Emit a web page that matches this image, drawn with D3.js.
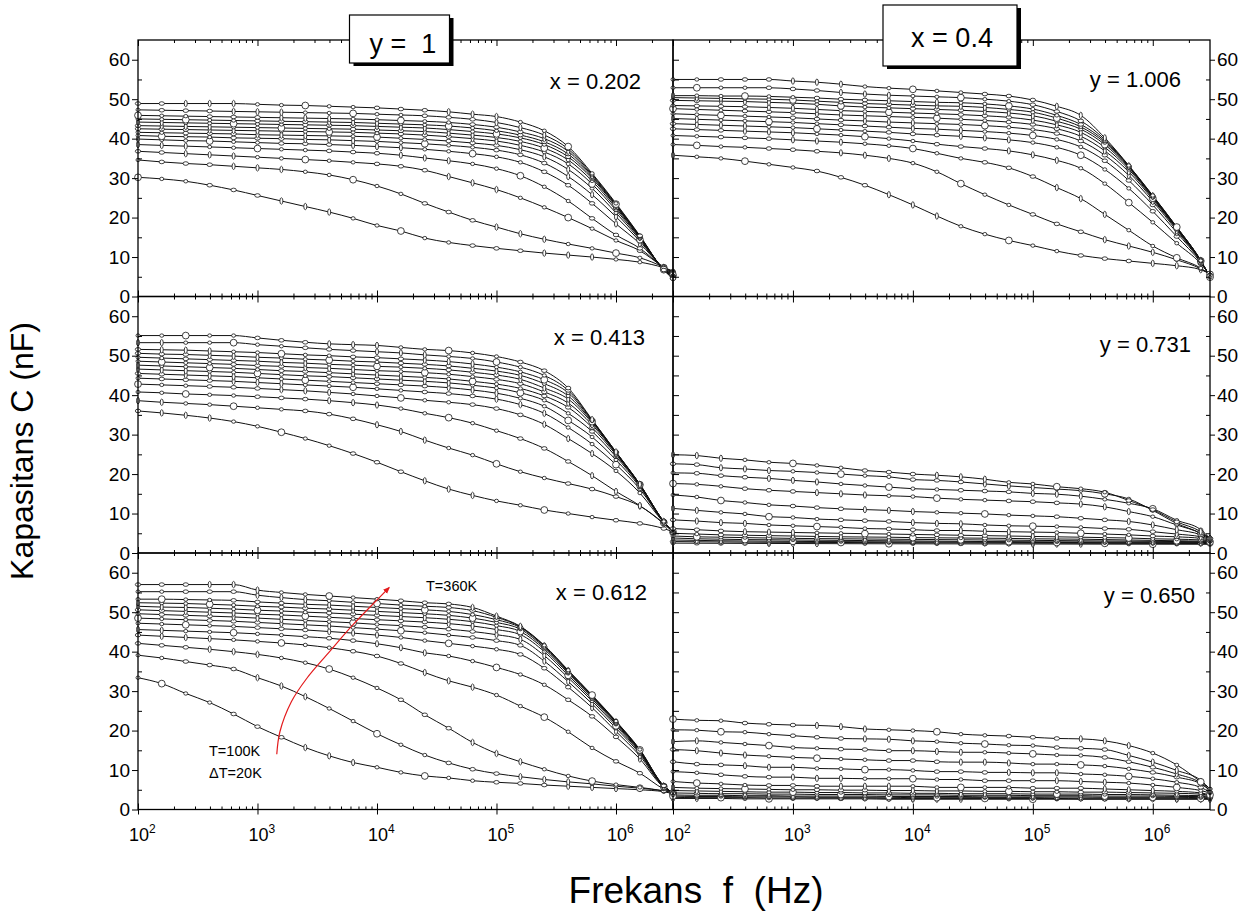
<!DOCTYPE html>
<html><head><meta charset="utf-8">
<script src="https://cdn.jsdelivr.net/npm/d3@7"></script>
<style>
body{margin:0;background:#fff;}
svg{display:block;}
</style></head><body>
<svg id="chart" width="1246" height="916"></svg>
<script>
// ---------- DATA ----------
const freqs = [100,158,251,398,631,1000,1585,2512,3981,6310,10000,15849,25119,39811,63096,100000,158489,251189,398107,630957,1000000,1584893,2511886,3000000];
const temps = [100,120,140,160,180,200,220,240,260,280,300,320,340,360];
const yTickValues = [0,10,20,30,40,50,60];
const xTickExponents = [2,3,4,5,6];
const panelLabels = ["x = 0.202","y = 1.006","x = 0.413","y = 0.731","x = 0.612","y = 0.650"];
const boxLabels = ["y =  1","x = 0.4"];
const arrowF = [1450,1540,1920,2580,4010,6250,9700,12600];
const arrowC = [14.0,19.7,27.3,33.2,40.0,46.7,52.7,56.2];

// capacitance (nF), one row per temperature T=100..360K
const capX0202 = [
[30.2,29.8,29.2,28.2,27.0,25.6,24.2,22.8,21.4,19.8,18.0,16.6,14.8,13.7,12.9,12.2,11.6,11.0,10.5,10.0,9.4,8.7,7.3,6.5],
[34.6,34.1,33.7,33.4,33.0,32.6,32.2,31.6,30.8,29.6,28.0,26.0,23.6,21.4,19.3,17.6,15.9,14.5,13.3,12.2,11.0,9.8,7.4,6.2],
[36.8,36.5,36.2,35.9,35.6,35.3,35.0,34.7,34.4,34.0,33.6,33.0,32.0,30.4,28.8,27.1,25.0,22.6,20.0,17.2,14.2,11.6,7.4,6.0],
[38.5,38.3,38.1,37.9,37.7,37.5,37.3,37.1,36.9,36.6,36.3,35.8,35.1,34.4,33.6,32.4,30.6,27.8,24.2,19.8,15.6,12.2,7.3,5.8],
[39.9,39.7,39.5,39.4,39.2,39.0,38.8,38.7,38.5,38.3,38.0,37.7,37.3,36.8,36.2,35.4,34.0,31.6,28.2,23.6,18.4,13.4,7.2,5.6],
[40.8,40.6,40.5,40.4,40.2,40.1,40.0,39.8,39.7,39.5,39.3,39.0,38.7,38.3,37.8,37.1,35.9,33.8,30.4,25.8,20.2,14.0,7.1,5.4],
[41.6,41.5,41.4,41.3,41.2,41.0,40.9,40.8,40.7,40.6,40.4,40.1,39.8,39.4,38.9,38.3,37.2,35.4,32.2,27.4,21.2,14.4,7.0,5.3],
[42.5,42.4,42.3,42.2,42.1,42.0,41.9,41.8,41.7,41.6,41.4,41.2,40.9,40.5,40.0,39.4,38.3,36.6,33.6,28.5,21.9,14.7,7.0,5.2],
[43.3,43.2,43.1,43.0,42.9,42.8,42.7,42.6,42.5,42.4,42.2,42.0,41.8,41.4,40.9,40.3,39.3,37.6,34.6,29.3,22.4,14.9,6.9,5.1],
[44.2,44.1,44.0,43.9,43.8,43.7,43.6,43.5,43.4,43.3,43.1,42.9,42.7,42.3,41.8,41.2,40.2,38.5,35.4,29.9,22.8,15.0,6.9,5.0],
[45.0,44.9,44.8,44.7,44.6,44.5,44.4,44.3,44.2,44.1,43.9,43.7,43.5,43.2,42.7,42.0,40.9,39.2,36.1,30.3,23.0,15.1,6.8,4.9],
[45.9,45.8,45.7,45.6,45.5,45.4,45.3,45.2,45.1,45.0,44.8,44.6,44.4,44.1,43.6,42.9,41.7,40.0,36.8,30.6,23.2,15.2,6.8,4.8],
[47.3,47.2,47.1,47.0,46.9,46.8,46.7,46.6,46.5,46.4,46.2,46.0,45.8,45.4,44.9,44.1,42.8,40.9,37.4,30.9,23.4,15.3,6.7,4.6],
[48.9,48.9,48.9,48.9,48.9,48.7,48.5,48.4,48.2,48.0,47.8,47.5,47.2,46.8,46.2,45.6,44.2,42.0,38.0,31.2,23.6,15.4,6.7,4.5]
];
const capY1006 = [
[35.8,35.4,35.0,34.3,33.5,32.7,31.8,30.2,28.2,25.8,23.2,20.4,17.8,15.8,14.2,12.9,11.5,10.4,9.6,9.0,8.4,7.8,6.8,5.7],
[38.5,38.3,38.0,37.8,37.5,37.2,36.8,36.4,35.8,35.0,33.8,31.6,28.6,25.8,23.2,20.8,18.4,16.4,14.4,12.8,11.2,9.3,7.0,5.6],
[40.8,40.6,40.4,40.2,40.0,39.7,39.4,39.1,38.7,38.2,37.5,36.3,35.0,34.0,32.6,30.4,27.6,24.8,20.8,16.8,12.8,9.8,7.2,5.5],
[42.5,42.3,42.1,41.9,41.7,41.5,41.2,40.9,40.5,40.0,39.4,38.6,38.0,37.5,36.9,35.9,34.5,32.5,28.6,23.8,18.8,13.5,8.3,5.4],
[43.8,43.6,43.4,43.2,43.0,42.8,42.5,42.2,41.9,41.6,41.2,40.9,40.6,40.2,39.7,39.0,37.8,35.8,32.2,27.4,21.6,15.2,8.6,5.3],
[45.1,44.9,44.7,44.5,44.3,44.1,43.8,43.5,43.2,42.9,42.6,42.4,42.1,41.8,41.4,40.8,39.8,37.9,34.4,29.4,23.2,16.2,8.8,5.2],
[46.3,46.1,45.9,45.7,45.5,45.3,45.0,44.7,44.5,44.2,44.0,43.8,43.6,43.3,42.9,42.3,41.3,39.4,35.8,30.7,24.1,16.7,8.9,5.1],
[47.6,47.4,47.2,47.0,46.8,46.6,46.3,46.0,45.8,45.6,45.4,45.2,44.9,44.6,44.2,43.6,42.5,40.6,36.9,31.6,24.6,17.0,9.0,5.0],
[48.4,48.3,48.2,48.1,47.9,47.7,47.4,47.1,46.9,46.7,46.5,46.3,46.1,45.8,45.4,44.7,43.5,41.6,37.8,32.2,24.9,17.2,9.0,5.0],
[49.7,49.6,49.5,49.4,49.2,49.0,48.7,48.3,48.0,47.8,47.6,47.4,47.2,46.9,46.5,45.8,44.4,42.4,38.5,32.6,25.1,17.3,9.0,4.9],
[50.4,50.3,50.2,50.1,50.0,49.8,49.5,49.2,48.9,48.7,48.5,48.3,48.2,47.9,47.4,46.7,45.2,43.0,39.0,32.8,25.3,17.4,9.1,4.9],
[50.9,50.9,50.8,50.8,50.7,50.5,50.3,50.0,49.8,49.6,49.4,49.2,49.1,48.8,48.3,47.5,45.9,43.6,39.4,33.0,25.4,17.5,9.1,4.9],
[52.9,52.9,52.9,52.9,52.9,52.6,52.2,51.7,51.3,51.0,50.8,50.6,50.4,50.0,49.5,48.6,46.9,44.5,39.8,33.1,25.5,17.6,9.1,4.9],
[55.0,55.0,55.0,55.0,55.0,54.6,54.3,53.8,53.2,52.8,52.5,52.1,51.7,51.3,50.8,49.8,48.2,45.9,40.2,33.2,25.6,17.6,9.1,4.9]
];
const capX0413 = [
[36.0,35.5,34.9,34.2,33.3,32.1,30.6,29.0,27.2,25.2,23.0,20.6,18.3,16.2,14.6,13.2,12.1,10.9,10.0,9.1,8.3,7.5,6.2,5.4],
[38.6,38.2,37.9,37.6,37.2,36.8,36.4,36.0,35.2,34.0,32.5,30.8,28.6,26.6,24.8,22.6,20.6,19.0,17.6,16.2,14.3,11.9,7.4,5.4],
[40.8,40.6,40.3,40.1,39.9,39.6,39.3,39.0,38.6,38.1,37.5,36.6,35.4,34.3,32.9,31.0,29.0,26.5,23.2,19.6,15.6,12.0,7.5,5.3],
[42.8,42.6,42.4,42.2,42.0,41.7,41.4,41.1,40.7,40.3,39.8,39.3,38.7,38.2,37.6,36.6,35.0,32.6,29.0,25.2,20.8,15.2,7.7,5.3],
[44.3,44.1,43.9,43.7,43.5,43.2,42.9,42.6,42.3,42.0,41.6,41.2,40.8,40.4,39.8,39.0,37.6,35.4,31.8,27.6,22.4,16.2,7.8,5.3],
[45.5,45.3,45.1,44.9,44.7,44.4,44.1,43.8,43.5,43.2,42.9,42.6,42.3,41.9,41.3,40.5,39.2,37.2,33.6,29.4,23.6,16.7,7.8,5.3],
[46.6,46.4,46.2,46.0,45.8,45.5,45.2,44.9,44.7,44.4,44.1,43.8,43.5,43.1,42.5,41.8,40.6,38.7,35.4,30.8,24.4,17.0,7.8,5.3],
[47.6,47.4,47.2,47.0,46.8,46.5,46.2,46.0,45.7,45.4,45.1,44.8,44.5,44.1,43.5,42.8,41.7,39.8,36.9,31.8,24.9,17.1,7.9,5.3],
[48.6,48.4,48.2,48.0,47.8,47.5,47.3,47.0,46.8,46.5,46.2,46.0,45.7,45.3,44.7,44.0,42.9,40.8,38.0,32.5,25.2,17.2,7.9,5.3],
[49.6,49.4,49.2,49.0,48.8,48.6,48.3,48.1,47.8,47.6,47.3,47.1,46.8,46.4,45.8,45.1,44.0,41.8,39.0,33.0,25.3,17.3,7.9,5.3],
[50.6,50.4,50.3,50.1,49.9,49.6,49.4,49.1,48.9,48.6,48.4,48.1,47.8,47.4,46.8,46.1,45.0,42.9,39.8,33.3,25.4,17.3,7.9,5.3],
[51.6,51.5,51.4,51.2,51.0,50.8,50.5,50.2,50.0,49.7,49.5,49.2,48.9,48.5,47.9,47.1,45.9,43.9,40.6,33.5,25.5,17.4,8.0,5.3],
[53.3,53.3,53.3,53.3,53.3,52.8,52.4,52.0,51.6,51.3,51.0,50.7,50.2,49.8,49.3,48.4,47.1,45.0,41.2,33.7,25.6,17.4,8.0,5.3],
[55.1,55.1,55.1,55.1,55.1,54.5,53.9,53.4,53.0,52.8,52.6,52.1,51.6,51.3,50.7,49.8,48.4,46.2,41.8,33.8,25.6,17.4,8.0,5.3]
];
const capY0731 = [
[2.5,2.48,2.46,2.44,2.42,2.4,2.38,2.36,2.35,2.34,2.33,2.32,2.31,2.3,2.29,2.28,2.27,2.26,2.25,2.24,2.23,2.22,2.21,2.2],
[2.9,2.85,2.8,2.75,2.72,2.7,2.68,2.66,2.64,2.62,2.6,2.58,2.56,2.54,2.52,2.5,2.48,2.46,2.45,2.44,2.43,2.42,2.41,2.4],
[3.3,3.2,3.1,3.05,3.0,2.95,2.9,2.88,2.85,2.82,2.8,2.78,2.75,2.72,2.7,2.68,2.66,2.64,2.62,2.6,2.58,2.56,2.54,2.52],
[3.8,3.6,3.5,3.4,3.35,3.3,3.25,3.2,3.15,3.1,3.05,3.0,2.95,2.9,2.88,2.85,2.82,2.8,2.78,2.75,2.72,2.7,2.68,2.65],
[4.3,4.1,4.0,3.9,3.8,3.7,3.65,3.6,3.55,3.5,3.45,3.4,3.35,3.3,3.25,3.2,3.15,3.1,3.05,3.0,2.95,2.9,2.85,2.8],
[5.0,4.8,4.6,4.5,4.4,4.3,4.2,4.1,4.05,4.0,3.9,3.85,3.8,3.75,3.7,3.6,3.55,3.5,3.4,3.3,3.2,3.1,3.0,2.9],
[6.2,5.9,5.6,5.4,5.3,5.2,5.1,5.0,4.9,4.8,4.7,4.6,4.5,4.4,4.3,4.2,4.1,4.0,3.9,3.8,3.6,3.5,3.3,3.1],
[8.4,8.1,7.7,7.5,7.1,6.9,6.7,6.5,6.2,6.1,5.9,5.7,5.7,5.5,5.4,5.3,5.2,5.0,4.8,4.6,4.3,4.1,3.7,3.3],
[11.3,10.8,10.3,9.9,9.2,9.0,8.6,8.4,8.2,8.0,7.7,7.5,7.4,7.1,6.9,6.8,6.7,6.5,6.2,6.0,5.4,4.8,4.1,3.5],
[14.7,14.2,13.3,12.8,12.2,11.9,11.5,11.2,11.0,10.8,10.5,10.3,10.1,9.9,9.6,9.4,9.2,8.8,8.4,8.0,7.1,5.9,4.6,3.5],
[17.6,17.4,16.9,16.3,15.9,15.6,15.3,15.0,14.7,14.5,14.3,13.9,13.6,13.4,13.2,13.0,12.7,12.4,11.7,10.5,9.2,7.1,5.0,3.7],
[20.3,20.2,19.6,19.2,18.9,18.4,18.0,17.5,17.1,16.7,16.3,16.1,15.9,15.7,15.5,15.1,14.9,14.4,13.6,12.6,11.2,8.3,5.9,3.7],
[22.6,22.4,21.6,21.3,20.9,20.7,20.4,20.0,19.6,19.3,18.6,18.4,18.0,17.5,17.0,16.6,16.2,15.8,15.0,13.7,10.8,7.5,5.0,3.7],
[24.9,24.7,24.0,23.6,23.0,22.7,22.2,21.6,20.9,20.5,20.0,19.7,19.3,18.7,17.9,17.5,16.8,16.3,15.4,13.3,11.0,7.9,5.4,3.7]
];
const capX0612 = [
[33.4,31.9,29.4,27.1,24.2,21.0,18.3,15.7,13.6,11.9,10.7,9.4,8.5,8.0,7.3,6.9,6.6,6.2,5.9,5.6,5.3,5.0,4.5,4.0],
[39.1,38.4,37.5,36.6,35.6,33.4,31.3,28.6,25.6,22.4,19.2,16.4,13.8,11.8,10.2,9.1,8.3,7.6,7.0,6.5,5.9,5.4,4.7,4.2],
[42.1,41.6,41.1,40.6,40.0,39.3,38.4,37.2,35.6,33.4,30.8,27.8,24.0,20.6,17.0,14.2,12.1,10.2,8.5,7.2,6.3,5.6,4.7,4.2],
[44.2,43.9,43.6,43.3,43.0,42.6,42.2,41.7,41.0,40.1,38.9,37.0,34.7,32.6,31.0,29.0,26.2,23.4,19.7,15.6,12.2,9.2,5.2,4.2],
[45.6,45.4,45.2,45.0,44.8,44.5,44.2,43.8,43.4,42.8,42.0,41.0,39.7,38.9,37.6,36.0,34.2,31.6,27.8,23.6,18.4,12.8,5.6,4.2],
[47.2,47.0,46.8,46.6,46.4,46.1,45.8,45.5,45.1,44.7,44.2,43.6,42.8,42.1,41.4,40.6,39.3,35.8,31.0,25.8,19.8,13.6,5.7,4.2],
[48.5,48.3,48.1,47.9,47.7,47.4,47.1,46.8,46.5,46.1,45.7,45.3,44.8,44.2,43.6,42.8,41.6,37.6,32.4,26.8,20.6,14.1,5.8,4.2],
[49.6,49.4,49.2,49.0,48.8,48.5,48.2,47.9,47.6,47.3,46.9,46.6,46.2,45.7,45.1,44.3,43.1,39.0,33.4,27.5,21.2,14.4,5.8,4.2],
[50.6,50.4,50.2,50.0,49.8,49.5,49.3,49.0,48.7,48.4,48.1,47.8,47.5,47.1,46.5,45.6,44.3,40.0,34.0,28.0,21.6,14.6,5.9,4.2],
[51.5,51.3,51.2,51.0,50.8,50.5,50.3,50.0,49.8,49.5,49.2,48.9,48.6,48.2,47.6,46.6,45.1,40.6,34.5,28.4,21.9,14.8,5.9,4.2],
[52.4,52.3,52.2,52.0,51.8,51.5,51.3,51.0,50.8,50.5,50.2,49.9,49.6,49.2,48.5,47.4,45.7,41.0,34.8,28.6,22.1,14.9,5.9,4.2],
[53.3,53.3,53.2,53.1,53.0,52.6,52.3,52.0,51.8,51.5,51.2,50.9,50.6,50.2,49.4,48.1,46.1,41.3,35.0,28.8,22.2,15.0,6.0,4.2],
[55.2,55.2,55.2,55.2,55.2,54.3,53.7,53.2,52.9,52.5,52.2,51.8,51.5,51.2,50.4,48.7,46.3,41.5,35.2,28.9,22.3,15.1,6.0,4.2],
[57.0,57.0,57.0,57.0,57.0,55.6,55.0,54.5,54.1,53.7,53.3,52.9,52.4,52.1,51.2,49.0,46.4,41.6,35.3,29.0,22.4,15.2,6.0,4.2]
];
const capY0650 = [
[2.8,2.8,2.8,2.7,2.7,2.7,2.7,2.7,2.7,2.6,2.6,2.6,2.6,2.6,2.6,2.6,2.6,2.6,2.6,2.6,2.6,2.6,2.6,2.6],
[3.1,3.0,3.0,3.0,2.9,2.9,2.9,2.9,2.9,2.8,2.8,2.8,2.8,2.8,2.8,2.8,2.8,2.7,2.7,2.7,2.7,2.7,2.7,2.7],
[3.4,3.3,3.3,3.2,3.2,3.2,3.1,3.1,3.1,3.1,3.0,3.0,3.0,3.0,3.0,3.0,2.9,2.9,2.9,2.9,2.9,2.9,2.8,2.8],
[3.7,3.6,3.6,3.5,3.5,3.4,3.4,3.4,3.4,3.3,3.3,3.3,3.3,3.2,3.2,3.2,3.2,3.2,3.1,3.1,3.1,3.1,3.0,3.0],
[4.2,4.1,4.0,4.0,3.9,3.9,3.8,3.8,3.8,3.7,3.7,3.7,3.6,3.6,3.6,3.5,3.5,3.5,3.4,3.4,3.4,3.3,3.3,3.2],
[4.8,4.7,4.6,4.5,4.4,4.4,4.3,4.3,4.2,4.2,4.1,4.1,4.0,4.0,4.0,3.9,3.9,3.9,3.8,3.8,3.7,3.6,3.5,3.4],
[5.6,5.4,5.3,5.2,5.1,5.0,5.0,4.9,4.9,4.8,4.8,4.7,4.7,4.6,4.6,4.5,4.5,4.4,4.4,4.3,4.2,4.1,3.9,3.6],
[7.1,6.7,6.5,6.2,6.1,6.1,5.9,5.9,5.9,5.9,5.9,5.6,5.6,5.6,5.6,5.4,5.4,5.4,5.2,5.0,4.8,4.6,4.2,3.7],
[9.6,9.3,8.8,8.4,8.2,8.2,7.9,7.9,7.8,7.8,7.8,7.6,7.6,7.3,7.3,7.3,7.3,7.1,6.9,6.7,6.2,5.6,4.8,4.2],
[12.1,11.5,11.3,11.1,10.7,10.7,10.4,10.3,10.1,10.1,9.9,9.6,9.6,9.4,9.4,9.3,9.3,9.0,8.8,8.4,7.8,6.9,5.6,4.4],
[15.2,14.9,14.3,13.8,13.5,13.2,13.0,12.8,12.6,12.4,12.4,12.1,12.0,12.0,11.8,11.5,11.5,11.3,11.0,10.3,9.4,8.2,6.5,4.8],
[17.2,17.4,17.0,16.6,16.2,15.7,15.5,15.3,15.2,14.9,14.9,14.7,14.5,14.5,14.3,14.1,13.8,13.7,13.2,12.1,10.7,9.0,6.7,4.8],
[20.2,20.1,19.7,19.6,19.1,18.7,18.3,18.0,17.9,17.8,17.4,17.2,16.8,16.6,16.3,16.2,15.7,15.5,15.2,13.7,12.0,9.9,7.4,5.2],
[22.9,22.6,22.5,21.9,21.6,21.4,21.3,21.0,20.4,20.2,20.0,19.7,19.1,18.8,18.6,18.3,18.0,17.9,17.4,16.2,14.3,11.3,7.0,5.2]
];

// ---------- LAYOUT ----------
const FONT = '"Liberation Sans", Arial, Helvetica, sans-serif';
const svg = d3.select("#chart").style("font-family", FONT);
const fMin = 100, fMax = 3000000;
const colX = [[138, 673], [673, 1210]];
const rowY = [40, 296.5, 553, 809.5];
const panels = [
  {data: capX0202, col: 0, row: 0, label: panelLabels[0], lx: 641, ly: 89},
  {data: capY1006, col: 1, row: 0, label: panelLabels[1], lx: 1181, ly: 87},
  {data: capX0413, col: 0, row: 1, label: panelLabels[2], lx: 645, ly: 345},
  {data: capY0731, col: 1, row: 1, label: panelLabels[3], lx: 1191, ly: 352},
  {data: capX0612, col: 0, row: 2, label: panelLabels[4], lx: 647, ly: 600},
  {data: capY0650, col: 1, row: 2, label: panelLabels[5], lx: 1195, ly: 603}
];

const majorF = xTickExponents.map(e => Math.pow(10, e));
const minorF = [];
xTickExponents.forEach(e => { for (let m = 2; m <= 9; m++) { const f = m * Math.pow(10, e); if (f < fMax) minorF.push(f); } });
const minorY = [5, 15, 25, 35, 45, 55];
const allFiveY = [5,10,15,20,25,30,35,40,45,50,55,60];

function styleAxis(g) {
  g.select(".domain").remove();
  g.selectAll(".tick line").attr("stroke", "#000").attr("stroke-width", 1);
  g.attr("font-family", FONT);
}

let blScales = null;

panels.forEach((p, pi) => {
  const [x0, x1] = colX[p.col];
  const yt = rowY[p.row], yb = rowY[p.row + 1];
  const x = d3.scaleLog().domain([fMin, fMax]).range([x0, x1]);
  const y = d3.scaleLinear().domain([0, 65]).range([yb, yt]);
  if (p.row === 2 && p.col === 0) blScales = {x, y};
  const g = svg.append("g");

  // curves
  const line = d3.line().x((d, i) => x(freqs[i])).y(d => y(d)).curve(d3.curveMonotoneX);
  p.data.forEach(s => {
    g.append("path").attr("d", line(s)).attr("fill", "none")
      .attr("stroke", "#111").attr("stroke-width", 1);
  });
  // markers
  p.data.forEach((s, si) => {
    s.forEach((v, i) => {
      const k = (si * 3 + i * 7 + pi) % 11;
      let rx = 2.0, ry = 1.7;
      if (k === 0) { rx = 3.4; ry = 3.4; }
      else if (k % 4 === 1) { rx = 1.5; ry = 3.2; }
      else if (k % 4 === 2) { rx = 2.7; ry = 1.8; }
      g.append("ellipse").attr("cx", x(freqs[i])).attr("cy", y(v))
        .attr("rx", rx).attr("ry", ry).attr("fill", "#fff")
        .attr("stroke", "#111").attr("stroke-width", 0.8);
    });
  });

  // frame
  g.append("rect").attr("x", x0).attr("y", yt).attr("width", x1 - x0).attr("height", yb - yt)
    .attr("fill", "none").attr("stroke", "#000").attr("stroke-width", 1.3);

  // x ticks inward top & bottom
  g.append("g").attr("transform", `translate(0,${yt})`)
    .call(d3.axisBottom(x).tickValues(majorF).tickSize(6).tickFormat("")).call(styleAxis);
  g.append("g").attr("transform", `translate(0,${yt})`)
    .call(d3.axisBottom(x).tickValues(minorF).tickSize(3).tickFormat("")).call(styleAxis);
  g.append("g").attr("transform", `translate(0,${yb})`)
    .call(d3.axisTop(x).tickValues(majorF).tickSize(6).tickFormat("")).call(styleAxis);
  g.append("g").attr("transform", `translate(0,${yb})`)
    .call(d3.axisTop(x).tickValues(minorF).tickSize(3).tickFormat("")).call(styleAxis);

  if (p.row === 2) {
    g.append("g").attr("transform", `translate(0,${yb})`)
      .call(d3.axisBottom(x).tickValues(majorF).tickSize(5).tickFormat("")).call(styleAxis);
    majorF.forEach((f, i) => {
      const t = g.append("text").attr("x", x(f) - 9).attr("y", 841)
        .attr("font-size", 18).attr("fill", "#000");
      t.append("tspan").text("10");
      t.append("tspan").attr("dy", -8).attr("font-size", 12).text(xTickExponents[i]);
    });
  }

  if (p.col === 0) {
    g.append("g").attr("transform", `translate(${x0},0)`)
      .call(d3.axisLeft(y).tickValues(yTickValues).tickSize(6).tickPadding(2))
      .call(styleAxis).call(a => a.selectAll("text").attr("font-size", 19).attr("fill", "#000"));
    g.append("g").attr("transform", `translate(${x0},0)`)
      .call(d3.axisRight(y).tickValues(minorY).tickSize(4).tickFormat("")).call(styleAxis);
  } else {
    g.append("g").attr("transform", `translate(${x0},0)`)
      .call(d3.axisRight(y).tickValues(allFiveY).tickSize(6).tickFormat("")).call(styleAxis);
    g.append("g").attr("transform", `translate(${x1},0)`)
      .call(d3.axisRight(y).tickValues(yTickValues).tickSize(5).tickPadding(2))
      .call(styleAxis).call(a => a.selectAll("text").attr("font-size", 19).attr("fill", "#000"));
    g.append("g").attr("transform", `translate(${x1},0)`)
      .call(d3.axisLeft(y).tickValues(minorY).tickSize(4).tickFormat("")).call(styleAxis);
  }

  // panel label
  g.append("text").attr("x", p.lx).attr("y", p.ly).attr("text-anchor", "end")
    .attr("font-size", 22).attr("fill", "#000").text(p.label);
});

// title boxes
const boxes = [
  {text: boxLabels[0], x: 349.5, y: 15, w: 100, h: 48, tx: 403, ty: 53},
  {text: boxLabels[1], x: 883, y: 5, w: 134, h: 61, tx: 952, ty: 47}
];
boxes.forEach(b => {
  svg.append("rect").attr("x", b.x + 4).attr("y", b.y + 3).attr("width", b.w).attr("height", b.h).attr("fill", "#000");
  svg.append("rect").attr("x", b.x).attr("y", b.y).attr("width", b.w).attr("height", b.h)
    .attr("fill", "#fff").attr("stroke", "#000").attr("stroke-width", 1.2);
  svg.append("text").attr("x", b.tx).attr("y", b.ty).attr("text-anchor", "middle")
    .attr("font-size", 27).attr("fill", "#000").style("white-space", "pre").text(b.text);
});

// red arrow annotation (bottom-left panel)
const defs = svg.append("defs");
defs.append("marker").attr("id", "arrowHead").attr("viewBox", "0 0 10 10")
  .attr("refX", 8).attr("refY", 5).attr("markerWidth", 7).attr("markerHeight", 7)
  .attr("orient", "auto").attr("markerUnits", "userSpaceOnUse")
  .append("path").attr("d", "M0,1 L10,5 L0,9 z").attr("fill", "#e31a1c");
const arrowLine = d3.line().x((d, i) => blScales.x(arrowF[i])).y(d => blScales.y(d)).curve(d3.curveCatmullRom);
svg.append("path").attr("d", arrowLine(arrowC)).attr("fill", "none")
  .attr("stroke", "#e31a1c").attr("stroke-width", 1.2).attr("marker-end", "url(#arrowHead)");
svg.append("text").attr("x", 426).attr("y", 591).attr("font-size", 14.5).attr("fill", "#000").text("T=360K");
svg.append("text").attr("x", 209).attr("y", 756).attr("font-size", 14.5).attr("fill", "#000").text("T=100K");
svg.append("text").attr("x", 209).attr("y", 778).attr("font-size", 14.5).attr("fill", "#000").text("\u0394T=20K");

// axis titles
svg.append("text").attr("transform", "translate(33,451) rotate(-90)").attr("text-anchor", "middle")
  .attr("font-size", 32).attr("fill", "#000").text("Kapasitans C (nF)");
svg.append("text").attr("x", 696).attr("y", 903).attr("text-anchor", "middle")
  .attr("font-size", 37).attr("fill", "#000").style("white-space", "pre").text("Frekans  f  (Hz)");
</script>
</body></html>
